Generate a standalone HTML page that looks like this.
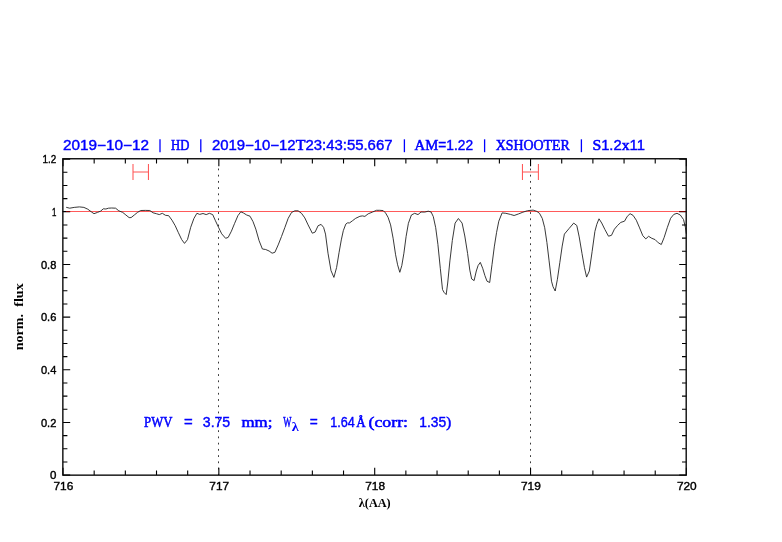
<!DOCTYPE html>
<html><head><meta charset="utf-8"><title>spectrum</title>
<style>html,body{margin:0;padding:0;background:#fff;}svg{display:block;will-change:transform;}</style></head>
<body>
<svg width="782" height="542" viewBox="0 0 782 542">
<rect x="0" y="0" width="782" height="542" fill="#fff"/>
<path d="M218.50 168.5V475" stroke="#3a3a3a" stroke-width="1" stroke-dasharray="1.8 4.432" fill="none"/>
<path d="M530.50 168.5V475" stroke="#3a3a3a" stroke-width="1" stroke-dasharray="1.8 4.432" fill="none"/>
<path d="M63 211.5H686.4" stroke="#ff5a5a" stroke-width="1" fill="none"/>
<path d="M133.0 164.1V179.9M148.45 164.1V179.9M133.0 171.9H148.45" stroke="#ff5555" stroke-width="1.05" fill="none"/>
<path d="M522.45 164.1V179.9M538.4 164.1V179.9M522.45 171.9H538.4" stroke="#ff5555" stroke-width="1.05" fill="none"/>
<path d="M66.2 207.3L69.7 208.2L74.2 207.4L79.4 206.9L83.9 207.4L87.8 209.2L91.7 212.1L94.0 213.7L97.5 212.4L100.7 211.1L103.3 208.8L105.9 209.0L108.4 208.2L111.7 208.0L115.6 208.2L118.8 210.8L122.7 212.4L125.9 215.0L129.1 217.6L131.1 217.6L134.3 215.0L137.5 212.4L140.7 210.5L145.3 210.4L149.8 210.5L153.1 212.8L156.4 213.7L159.3 214.6L162.3 213.3L165.5 215.3L168.7 215.7L172.0 220.2L175.2 225.7L178.4 232.7L181.7 239.6L184.5 243.4L187.5 239.6L190.7 227.3L193.9 218.5L196.9 213.3L199.7 214.4L203.0 213.5L206.2 214.6L209.4 213.3L212.7 214.6L215.2 220.2L218.5 227.3L221.7 233.8L225.6 238.3L228.2 237.4L231.4 231.2L234.6 223.4L237.9 215.7L240.8 211.8L243.5 213.0L246.7 215.0L250.0 216.2L253.0 221.6L255.8 229.1L259.1 240.7L262.4 249.0L265.7 249.5L269.1 251.0L272.1 253.2L274.9 252.3L278.2 244.9L281.5 236.5L284.9 227.4L288.2 218.3L291.5 212.5L294.8 210.8L298.1 210.8L301.5 213.3L304.8 217.9L308.1 224.9L312.3 233.2L315.1 232.1L318.1 225.7L321.1 224.4L323.6 227.4L325.5 234.1L328.0 253.2L331.0 270.6L333.9 277.4L336.6 267.5L339.1 252.3L341.3 239.9L343.3 230.7L345.8 224.1L347.4 222.9L349.6 222.9L352.4 220.8L355.7 218.3L359.9 216.3L362.4 215.9L364.9 216.4L368.2 213.8L372.4 212.1L376.5 210.3L379.8 210.3L383.2 210.6L385.6 213.0L388.1 217.4L390.6 224.9L393.1 238.2L395.6 254.8L397.6 264.8L399.8 272.3L401.8 265.6L403.9 253.2L406.1 236.5L408.4 223.3L411.4 215.0L414.7 213.3L418.0 214.6L421.0 212.0L424.7 212.1L428.2 211.2L431.1 212.0L433.3 216.6L435.7 227.7L437.9 244.3L440.3 268.3L442.5 289.5L444.0 292.3L446.2 294.6L447.7 283.0L449.9 260.9L452.3 240.6L455.1 223.1L458.4 218.5L462.1 223.1L464.8 236.0L467.6 253.5L469.8 270.1L471.7 279.0L474.1 280.6L476.3 271.0L478.1 265.5L480.3 262.4L482.7 268.3L484.9 275.6L487.0 281.2L489.7 282.5L492.0 264.6L494.4 246.1L496.6 232.3L498.8 221.2L502.1 212.9L505.8 213.3L510.4 214.4L514.1 215.5L518.3 214.0L522.9 212.2L527.5 210.7L533.1 210.1L536.8 211.4L539.5 213.3L542.3 218.5L544.7 227.7L546.9 242.4L549.1 260.9L551.5 281.2L553.0 286.7L555.2 291.0L557.4 279.3L559.8 262.7L562.2 246.1L564.4 234.1L569.0 228.6L573.7 223.1L576.8 225.5L579.2 236.9L582.0 253.5L584.4 267.3L586.6 277.1L589.3 271.0L592.1 251.7L594.9 231.4L596.8 224.3L599.0 218.8L601.7 223.0L604.9 229.5L608.5 236.2L611.5 235.3L614.4 229.2L617.6 225.4L620.8 222.4L624.5 221.2L627.3 216.3L630.1 213.7L633.1 215.4L636.3 220.2L639.6 227.9L642.8 235.7L645.8 238.9L648.6 236.3L651.8 238.3L655.1 239.6L658.3 242.8L661.3 244.5L664.1 237.6L667.4 227.3L670.6 218.3L673.8 214.4L677.0 213.3L680.3 215.0L683.5 219.5L685.4 227.3L686.3 233.8" stroke="#222" stroke-width="0.9" fill="none" stroke-linejoin="round"/>
<path d="M63.00 475V467.80M63.00 159V166.20M94.17 475V470.60M94.17 159V163.40M125.34 475V470.60M125.34 159V163.40M156.51 475V470.60M156.51 159V163.40M187.68 475V470.60M187.68 159V163.40M218.85 475V467.80M218.85 159V166.20M250.02 475V470.60M250.02 159V163.40M281.19 475V470.60M281.19 159V163.40M312.36 475V470.60M312.36 159V163.40M343.53 475V470.60M343.53 159V163.40M374.70 475V467.80M374.70 159V166.20M405.87 475V470.60M405.87 159V163.40M437.04 475V470.60M437.04 159V163.40M468.21 475V470.60M468.21 159V163.40M499.38 475V470.60M499.38 159V163.40M530.55 475V467.80M530.55 159V166.20M561.72 475V470.60M561.72 159V163.40M592.89 475V470.60M592.89 159V163.40M624.06 475V470.60M624.06 159V163.40M655.23 475V470.60M655.23 159V163.40M686.40 475V467.80M686.40 159V166.20M63 475.10H70.20M686.4 475.10H679.20M63 461.93H67.40M686.4 461.93H682.00M63 448.77H67.40M686.4 448.77H682.00M63 435.60H67.40M686.4 435.60H682.00M63 422.43H70.20M686.4 422.43H679.20M63 409.27H67.40M686.4 409.27H682.00M63 396.10H67.40M686.4 396.10H682.00M63 382.93H67.40M686.4 382.93H682.00M63 369.77H70.20M686.4 369.77H679.20M63 356.60H67.40M686.4 356.60H682.00M63 343.43H67.40M686.4 343.43H682.00M63 330.27H67.40M686.4 330.27H682.00M63 317.10H70.20M686.4 317.10H679.20M63 303.93H67.40M686.4 303.93H682.00M63 290.77H67.40M686.4 290.77H682.00M63 277.60H67.40M686.4 277.60H682.00M63 264.43H70.20M686.4 264.43H679.20M63 251.27H67.40M686.4 251.27H682.00M63 238.10H67.40M686.4 238.10H682.00M63 224.93H67.40M686.4 224.93H682.00M63 211.77H70.20M686.4 211.77H679.20M63 198.60H67.40M686.4 198.60H682.00M63 185.43H67.40M686.4 185.43H682.00M63 172.27H67.40M686.4 172.27H682.00M63 159.10H70.20M686.4 159.10H679.20" stroke="#000" stroke-width="1.1" fill="none"/>
<path d="M62.5 211.5H66" stroke="#000" stroke-width="1"/><path d="M66 211.5H70M679 211.5H686" stroke="#800000" stroke-width="1"/>
<rect x="62.85" y="158.75" width="623.35" height="316.40" fill="none" stroke="#0c0c0c" stroke-width="1.4"/>
<text x="42.5" y="163.2" textLength="13.8" lengthAdjust="spacingAndGlyphs" style="font-family:'Liberation Sans',sans-serif;font-size:11.6px" fill="#000" stroke="#000" stroke-width="0.4">1.2</text>
<text x="51.9" y="215.9" textLength="4.4" lengthAdjust="spacingAndGlyphs" style="font-family:'Liberation Sans',sans-serif;font-size:11.6px" fill="#000" stroke="#000" stroke-width="0.4">1</text>
<text x="40.9" y="268.5" textLength="15.4" lengthAdjust="spacingAndGlyphs" style="font-family:'Liberation Sans',sans-serif;font-size:11.6px" fill="#000" stroke="#000" stroke-width="0.4">0.8</text>
<text x="40.9" y="321.2" textLength="15.4" lengthAdjust="spacingAndGlyphs" style="font-family:'Liberation Sans',sans-serif;font-size:11.6px" fill="#000" stroke="#000" stroke-width="0.4">0.6</text>
<text x="40.9" y="373.9" textLength="15.4" lengthAdjust="spacingAndGlyphs" style="font-family:'Liberation Sans',sans-serif;font-size:11.6px" fill="#000" stroke="#000" stroke-width="0.4">0.4</text>
<text x="40.9" y="426.5" textLength="15.4" lengthAdjust="spacingAndGlyphs" style="font-family:'Liberation Sans',sans-serif;font-size:11.6px" fill="#000" stroke="#000" stroke-width="0.4">0.2</text>
<text x="49.9" y="479.2" textLength="6.4" lengthAdjust="spacingAndGlyphs" style="font-family:'Liberation Sans',sans-serif;font-size:11.6px" fill="#000" stroke="#000" stroke-width="0.4">0</text>
<text x="53.5" y="490.4" textLength="19.8" lengthAdjust="spacingAndGlyphs" style="font-family:'Liberation Sans',sans-serif;font-size:11.6px" fill="#000" stroke="#000" stroke-width="0.4">716</text>
<text x="209.3" y="490.4" textLength="19.8" lengthAdjust="spacingAndGlyphs" style="font-family:'Liberation Sans',sans-serif;font-size:11.6px" fill="#000" stroke="#000" stroke-width="0.4">717</text>
<text x="365.2" y="490.4" textLength="19.8" lengthAdjust="spacingAndGlyphs" style="font-family:'Liberation Sans',sans-serif;font-size:11.6px" fill="#000" stroke="#000" stroke-width="0.4">718</text>
<text x="521.0" y="490.4" textLength="19.8" lengthAdjust="spacingAndGlyphs" style="font-family:'Liberation Sans',sans-serif;font-size:11.6px" fill="#000" stroke="#000" stroke-width="0.4">719</text>
<text x="676.9" y="490.4" textLength="19.8" lengthAdjust="spacingAndGlyphs" style="font-family:'Liberation Sans',sans-serif;font-size:11.6px" fill="#000" stroke="#000" stroke-width="0.4">720</text>
<text x="358.8" y="507" textLength="31.9" lengthAdjust="spacingAndGlyphs" style="font-family:'Liberation Serif',serif;font-size:12px;font-weight:bold" fill="#000">λ(AA)</text>
<text transform="translate(23.2 350.3) rotate(-90)" x="0" y="0" textLength="67" lengthAdjust="spacingAndGlyphs" style="font-family:'Liberation Serif',serif;font-size:12px;font-weight:bold" fill="#000" xml:space="preserve">norm.  flux</text>
<text x="63.1" y="150.3" textLength="85.9" lengthAdjust="spacingAndGlyphs" style="font-family:'Liberation Sans',sans-serif;font-size:14px" fill="#0000ff" stroke="#0000ff" stroke-width="0.4" xml:space="preserve">2019−10−12</text>
<path d="M160 139.3V152.2" stroke="#0000ff" stroke-width="1.3"/>
<text x="171.0" y="150.3" textLength="18.3" lengthAdjust="spacingAndGlyphs" style="font-family:'Liberation Sans',sans-serif;font-size:14px" fill="#0000ff" stroke="#0000ff" stroke-width="0.4" xml:space="preserve"><tspan style="font-family:'Liberation Serif',serif;font-size:15px" stroke-width="0.55">HD</tspan></text>
<path d="M200.8 139.3V152.2" stroke="#0000ff" stroke-width="1.3"/>
<text x="211.9" y="150.3" textLength="180.6" lengthAdjust="spacingAndGlyphs" style="font-family:'Liberation Sans',sans-serif;font-size:14px" fill="#0000ff" stroke="#0000ff" stroke-width="0.4" xml:space="preserve">2019−10−12<tspan style="font-family:'Liberation Serif',serif;font-size:15px" stroke-width="0.55">T</tspan>23:43:55.667</text>
<path d="M404.4 139.3V152.2" stroke="#0000ff" stroke-width="1.3"/>
<text x="414.6" y="150.3" textLength="58.5" lengthAdjust="spacingAndGlyphs" style="font-family:'Liberation Sans',sans-serif;font-size:14px" fill="#0000ff" stroke="#0000ff" stroke-width="0.4" xml:space="preserve"><tspan style="font-family:'Liberation Serif',serif;font-size:15px" stroke-width="0.55">AM</tspan>=1.22</text>
<path d="M484.6 139.3V152.2" stroke="#0000ff" stroke-width="1.3"/>
<text x="495.7" y="150.3" textLength="74.1" lengthAdjust="spacingAndGlyphs" style="font-family:'Liberation Sans',sans-serif;font-size:14px" fill="#0000ff" stroke="#0000ff" stroke-width="0.4" xml:space="preserve"><tspan style="font-family:'Liberation Serif',serif;font-size:15px" stroke-width="0.55">XSHOOTER</tspan></text>
<path d="M581.4 139.3V152.2" stroke="#0000ff" stroke-width="1.3"/>
<text x="592.4" y="150.3" textLength="52.5" lengthAdjust="spacingAndGlyphs" style="font-family:'Liberation Sans',sans-serif;font-size:14px" fill="#0000ff" stroke="#0000ff" stroke-width="0.4" xml:space="preserve"><tspan style="font-family:'Liberation Serif',serif;font-size:15px" stroke-width="0.55">S</tspan>1.2<tspan style="font-family:'Liberation Serif',serif;font-size:15px" stroke-width="0.55">x</tspan>11</text>
<text x="144.1" y="427.4" textLength="28.3" lengthAdjust="spacingAndGlyphs" style="font-family:'Liberation Sans',sans-serif;font-size:14px" fill="#0000ff" stroke="#0000ff" stroke-width="0.4" xml:space="preserve"><tspan style="font-family:'Liberation Serif',serif;font-size:15px" stroke-width="0.55">PWV</tspan></text>
<text x="183.9" y="427.4" textLength="8.7" lengthAdjust="spacingAndGlyphs" style="font-family:'Liberation Sans',sans-serif;font-size:14px" fill="#0000ff" stroke="#0000ff" stroke-width="0.4" xml:space="preserve">=</text>
<text x="202.8" y="427.4" textLength="27.4" lengthAdjust="spacingAndGlyphs" style="font-family:'Liberation Sans',sans-serif;font-size:14px" fill="#0000ff" stroke="#0000ff" stroke-width="0.4" xml:space="preserve">3.75</text>
<text x="241.5" y="427.4" textLength="30.9" lengthAdjust="spacingAndGlyphs" style="font-family:'Liberation Sans',sans-serif;font-size:14px" fill="#0000ff" stroke="#0000ff" stroke-width="0.4" xml:space="preserve"><tspan style="font-family:'Liberation Serif',serif;font-size:15px" stroke-width="0.55">mm;</tspan></text>
<text x="283.3" y="427.4" textLength="8.2" lengthAdjust="spacingAndGlyphs" style="font-family:'Liberation Sans',sans-serif;font-size:14px" fill="#0000ff" stroke="#0000ff" stroke-width="0.4" xml:space="preserve"><tspan style="font-family:'Liberation Serif',serif;font-size:15px" stroke-width="0.55">W</tspan></text>
<text x="291.8" y="431" textLength="7" lengthAdjust="spacingAndGlyphs" style="font-family:'Liberation Serif',serif;font-size:13px;font-weight:bold" fill="#0000ff">λ</text>
<text x="309.8" y="427.4" textLength="8.0" lengthAdjust="spacingAndGlyphs" style="font-family:'Liberation Sans',sans-serif;font-size:14px" fill="#0000ff" stroke="#0000ff" stroke-width="0.4" xml:space="preserve">=</text>
<text x="330.2" y="427.4" textLength="24.6" lengthAdjust="spacingAndGlyphs" style="font-family:'Liberation Sans',sans-serif;font-size:14px" fill="#0000ff" stroke="#0000ff" stroke-width="0.4" xml:space="preserve">1.64</text>
<text x="356.3" y="427.4" textLength="9.4" lengthAdjust="spacingAndGlyphs" style="font-family:'Liberation Sans',sans-serif;font-size:14px" fill="#0000ff" stroke="#0000ff" stroke-width="0.4" xml:space="preserve"><tspan style="font-family:'Liberation Serif',serif;font-size:15px" stroke-width="0.55">Å</tspan></text>
<text x="368.5" y="427.4" textLength="39.5" lengthAdjust="spacingAndGlyphs" style="font-family:'Liberation Sans',sans-serif;font-size:14px" fill="#0000ff" stroke="#0000ff" stroke-width="0.4" xml:space="preserve"><tspan style="font-family:'Liberation Serif',serif;font-size:15px" stroke-width="0.55">(corr:</tspan></text>
<text x="419.3" y="427.4" textLength="31.8" lengthAdjust="spacingAndGlyphs" style="font-family:'Liberation Sans',sans-serif;font-size:14px" fill="#0000ff" stroke="#0000ff" stroke-width="0.4" xml:space="preserve">1.35<tspan style="font-family:'Liberation Serif',serif;font-size:15px" stroke-width="0.55">)</tspan></text>
</svg>
</body></html>
